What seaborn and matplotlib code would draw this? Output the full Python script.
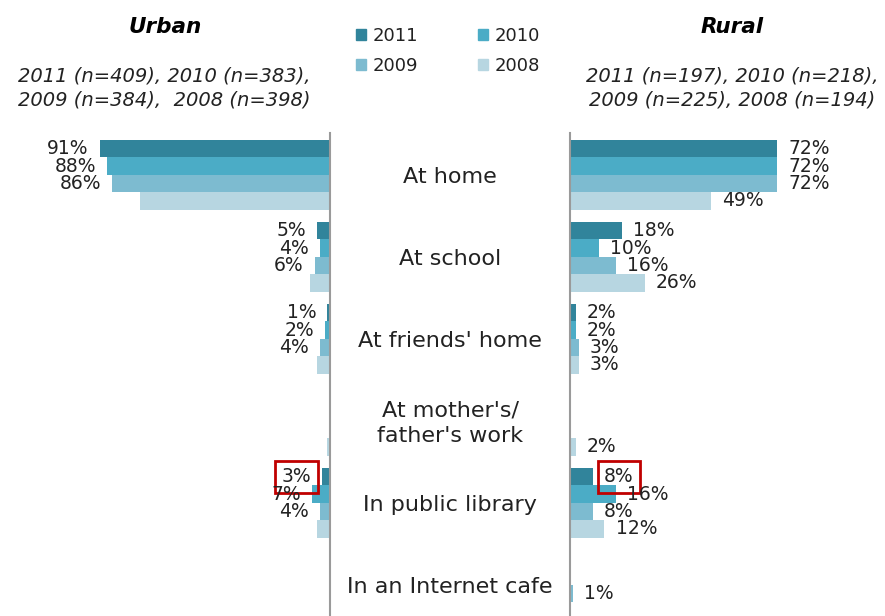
import matplotlib
matplotlib.use('Agg')
import matplotlib.pyplot as plt
import matplotlib.transforms as mtransforms
from matplotlib.patches import Patch
import pandas as pd
import seaborn as sns

# --- data (percent of respondents) ---
places = ["At home", "At school", "At friends' home",
          "At mother's/\nfather's work", "In public library", "In an Internet cafe"]
years = ["2011", "2010", "2009", "2008"]

urban_2011 = [91, 5, 1, 0, 3, 0]
urban_2010 = [88, 4, 2, 0, 7, 0]
urban_2009 = [86, 6, 4, 0, 4, 0]
urban_2008 = [75, 8, 5, 1, 5, 0]

rural_2011 = [72, 18, 2, 0, 8, 0]
rural_2010 = [72, 10, 2, 0, 16, 0]
rural_2009 = [72, 16, 3, 0, 8, 1]
rural_2008 = [49, 26, 3, 2, 12, 0]

# urban 2008 has no data labels in the original
urban_labelled = ["2011", "2010", "2009"]
rural_labelled = ["2011", "2010", "2009", "2008"]
highlight = ("In public library", "2011")

urban_title = "Urban"
urban_note = "2011 (n=409), 2010 (n=383),\n2009 (n=384),  2008 (n=398)"
rural_title = "Rural"
rural_note = "2011 (n=197), 2010 (n=218),\n2009 (n=225), 2008 (n=194)"

palette = ["#31849B", "#4BACC6", "#7DBBD0", "#B7D6E1"]
text_col = "#222222"


def to_long(series):
    rows = []
    for yr, vals in zip(years, series):
        for p, v in zip(places, vals):
            rows.append({"place": p, "year": yr, "pct": v})
    return pd.DataFrame(rows)


urban_df = to_long([urban_2011, urban_2010, urban_2009, urban_2008])
rural_df = to_long([rural_2011, rural_2010, rural_2009, rural_2008])

sns.set_theme(style="white")
plt.rcParams['font.family'] = ['DejaVu Sans']

W, H = 885, 616
fig = plt.figure(figsize=(W / 100, H / 100), dpi=100)

ax_top = 133
ax_u = fig.add_axes([0, 0, 330 / W, (H - ax_top) / H])
ax_r = fig.add_axes([570 / W, 0, (W - 570) / W, (H - ax_top) / H])


def draw_side(ax, df, labelled, xmax, invert):
    sns.barplot(data=df, y="place", x="pct", hue="year", orient="h",
                order=places, hue_order=years, palette=palette,
                width=0.85, saturation=1, linewidth=0, legend=False, ax=ax)
    ax.set_ylim(5.38, -0.51)
    if invert:
        ax.set_xlim(xmax, 0)
    else:
        ax.set_xlim(0, xmax)
    ax.set_xlabel("")
    ax.set_ylabel("")
    ax.set_xticks([])
    ax.set_yticks([])
    for s in ax.spines.values():
        s.set_visible(False)
    side = "right" if invert else "left"
    ax.spines[side].set_visible(True)
    ax.spines[side].set_color("#9a9a9a")
    ax.spines[side].set_linewidth(1.5)

    for yr, cont in zip(years, ax.containers):
        sub = df[df["year"] == yr].set_index("place").loc[places, "pct"]
        if yr in labelled:
            labels = [f"{v:g}%" if v > 0 else "" for v in sub]
        else:
            labels = ["" for _ in sub]
        texts = ax.bar_label(cont, labels=labels, padding=8, fontsize=13.5,
                             color=text_col)
        for p, t in zip(places, texts):
            if (p, yr) == highlight and t.get_text():
                t.set_bbox(dict(boxstyle="square,pad=0.35", fc="none",
                                ec="#C00000", lw=2))


draw_side(ax_u, urban_df, urban_labelled, 130.4, True)
draw_side(ax_r, rural_df, rural_labelled, 109.6, False)

# category labels in the centre column
trans = mtransforms.blended_transform_factory(fig.transFigure, ax_r.transData)
for i, p in enumerate(places):
    ax_r.text(450 / W, i + 0.03, p, transform=trans, ha="center", va="center",
              fontsize=16, color=text_col, clip_on=False, linespacing=1.35)

# titles and sample sizes
fig.text(165 / W, 1 - 27 / H, urban_title, ha="center", va="center",
         fontsize=15.5, fontweight="bold", fontstyle="italic", color="black")
fig.text(164 / W, 1 - 88 / H, urban_note, ha="center", va="center",
         fontsize=14, fontstyle="italic", color=text_col, linespacing=1.3)
fig.text(732 / W, 1 - 27 / H, rural_title, ha="center", va="center",
         fontsize=15.5, fontweight="bold", fontstyle="italic", color="black")
fig.text(732 / W, 1 - 88 / H, rural_note, ha="center", va="center",
         fontsize=14, fontstyle="italic", color=text_col, linespacing=1.3)

# legend fills column-wise, so order handles to read 2011 2010 / 2009 2008
leg_order = ["2011", "2009", "2010", "2008"]
handles = [Patch(color=palette[years.index(y)], label=y) for y in leg_order]
fig.legend(handles=handles, ncol=2, loc="upper center",
           bbox_to_anchor=(448 / W, 1 - 11 / H), frameon=False,
           fontsize=13, handlelength=0.55, handleheight=0.55,
           handletextpad=0.4, columnspacing=3.3, labelspacing=0.65,
           labelcolor=text_col)

fig.savefig("out.png", dpi=100)
plt.close(fig)
